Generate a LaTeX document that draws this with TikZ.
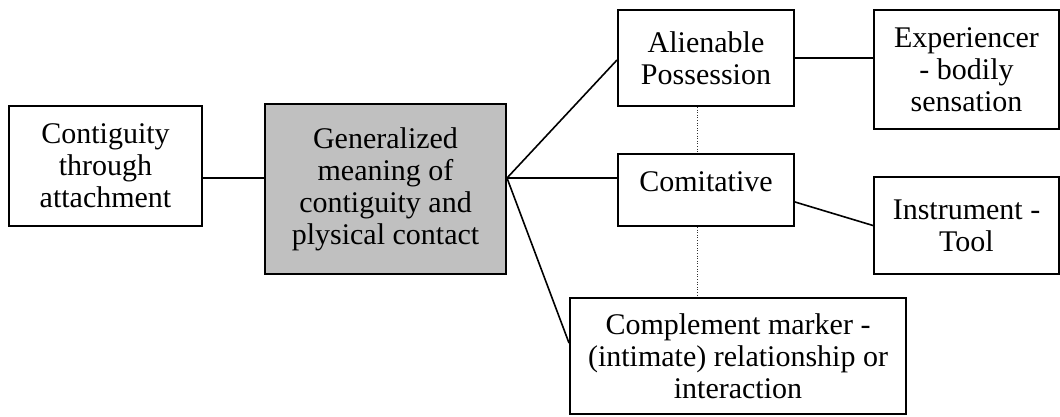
\documentclass[tikz,border=0pt]{standalone}
\usepackage{fontspec}
\setmainfont{Liberation Serif}
\definecolor{hubgray}{RGB}{192,192,192}
\begin{document}
\begin{tikzpicture}[x=1pt,y=-1pt,
  box/.style={draw=black, line width=2pt, fill=white, inner sep=0pt,
    align=center, font=\fontsize{30}{32}\selectfont},
  link/.style={draw=black, line width=1.6pt},
  dotlink/.style={draw=black!80, line width=1pt, dash pattern=on 1pt off 1.6pt}]
\useasboundingbox (0,0) rectangle (1060,416);

% boxes
\node[box, minimum width=193pt, minimum height=120pt] (cont) at (105.5,166)
  {Contiguity\\through\\attachment};
\node[box, fill=hubgray, minimum width=241pt, minimum height=170pt] (hub) at (385.5,189)
  {Generalized\\meaning of\\contiguity and\\plysical contact};
\node[box, minimum width=176pt, minimum height=96pt] (alien) at (706,58)
  {Alienable\\Possession};
\node[box, minimum width=185pt, minimum height=119pt] (exper) at (966.5,69.5)
  {Experiencer\\- bodily\\sensation};
\node[box, minimum width=176pt, minimum height=72pt, text depth=16pt] (comit) at (706,190)
  {Comitative};
\node[box, minimum width=185pt, minimum height=97pt] (instr) at (966.5,225.5)
  {Instrument -\\Tool};
\node[box, minimum width=336pt, minimum height=116pt] (compl) at (738,356)
  {Complement marker -\\(intimate) relationship or\\interaction};

% connectors
\coordinate (fork) at ([yshift=11pt]hub.east);
\draw[link] ([yshift=-12pt]cont.east) -- ([yshift=11pt]hub.west);
\draw[link] (fork) -- ([yshift=-2pt]alien.west);
\draw[link] (fork) -- ([yshift=12pt]comit.west);
\draw[link] (fork) -- ([yshift=13pt]compl.west);
\draw[link] (alien.east) -- (alien.east -| exper.west);
\draw[link] ([yshift=-12pt]comit.east) -- (instr.west);

% dotted links along the middle column
\draw[dotlink] ([xshift=-9pt]alien.south) -- ([xshift=-9pt]comit.north);
\draw[dotlink] ([xshift=-9pt]comit.south) -- ([xshift=-9pt]comit.south |- compl.north);
\end{tikzpicture}
\end{document}
